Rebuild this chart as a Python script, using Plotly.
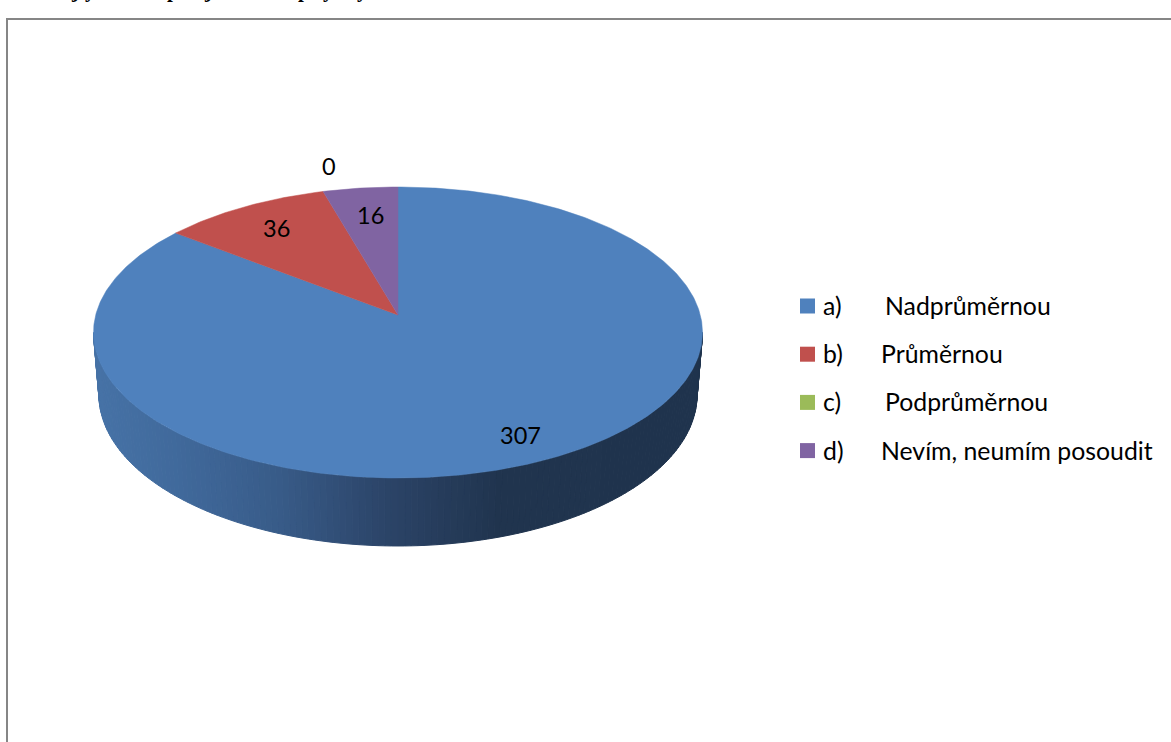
import math
import plotly.graph_objects as go

# ---- data ----
categories = ["Nadprůměrnou", "Průměrnou", "Podprůměrnou", "Nevím, neumím posoudit"]
prefixes = ["a)", "b)", "c)", "d)"]
values = [307, 36, 0, 16]
colors = ["#4f81bd", "#c0504d", "#9bbb59", "#8064a2"]
title_glyphs = ["j", "y", "p", "j", "p", "y", "y"]
title_glyph_x = [75, 90, 173, 208, 304, 328, 362]

# ---- layout constants (pixel space of the 1171x742 page) ----
W, H = 1171, 742
CX = 398.0
APEX_Y = 315.0
K = 302.3      # horizontal scale of the perspective projection
B = -105.5     # vertical scale
A = 0.1203     # perspective strength
BOTTOM_S = 0.982
BOTTOM_APEX_Y = 376.7
FRAME = "#868686"
FONT = "Lato"
LABEL_SIZE = 23.5
LEGEND_SIZE = 24.8


def project(phi_deg, r=1.0, bottom=False):
    """Point on the tilted disc; phi clockwise from the top, r in 0..1."""
    p = math.radians(phi_deg)
    X, Y = r * math.sin(p), r * math.cos(p)
    d = 1 + A * Y
    if bottom:
        return CX + BOTTOM_S * K * X / d, (BOTTOM_APEX_Y + BOTTOM_S * B * Y) / d
    return CX + K * X / d, (APEX_Y + B * Y) / d


def hex_rgb(h):
    return tuple(int(h[i:i + 2], 16) for i in (1, 3, 5))


side_stops = [(98, "#4672a6"), (180, "#40699b"), (280, "#385b88"),
              (380, "#2c4569"), (500, "#20344e"), (700, "#1f334d")]


def side_color(x):
    for (x0, c0), (x1, c1) in zip(side_stops, side_stops[1:]):
        if x <= x1:
            t = max(0.0, (x - x0) / (x1 - x0))
            a, b = hex_rgb(c0), hex_rgb(c1)
            return "rgb(%d,%d,%d)" % tuple(round(a[i] + (b[i] - a[i]) * t) for i in range(3))
    return side_stops[-1][1]


fig = go.Figure()

# visible rim of the disc, drawn as narrow strips from the silhouette round the front
phi_a = math.degrees(math.acos(-A))
phi_b = 360 - phi_a
N = 150
for i in range(N):
    p0 = phi_a + (phi_b - phi_a) * i / N
    p1 = phi_a + (phi_b - phi_a) * (i + 1) / N
    pts = [project(p0), project(p1), project(p1, bottom=True), project(p0, bottom=True)]
    xs = [q[0] for q in pts] + [pts[0][0]]
    ys = [q[1] for q in pts] + [pts[0][1]]
    col = side_color(sum(xs[:4]) / 4)
    fig.add_trace(go.Scatter(x=xs, y=ys, mode="lines", fill="toself", fillcolor=col,
                             line=dict(color=col, width=1), hoverinfo="skip", showlegend=False))

# top face, one wedge per value, clockwise from twelve o'clock
total = sum(values)
start = 0.0
mids = []
for name, val, col in zip(categories, values, colors):
    sweep = 360.0 * val / total
    mids.append(start + sweep / 2)
    if val > 0:
        steps = max(2, int(sweep * 1.5))
        arc = [project(start + sweep * j / steps) for j in range(steps + 1)]
        apex = project(0, 0)
        xs = [apex[0]] + [q[0] for q in arc] + [apex[0]]
        ys = [apex[1]] + [q[1] for q in arc] + [apex[1]]
        fig.add_trace(go.Scatter(x=xs, y=ys, mode="lines", fill="toself", fillcolor=col,
                                 line=dict(color=col, width=0.5), name=name,
                                 text=f"{name}: {val}", hoverinfo="text", showlegend=False))
    start += sweep

annotations = []

# data labels at a radius along each wedge's middle
label_r = [0.84, 0.77, 1.19, 0.76]
label_xshift = [0, 0, 18, 2]
label_yshift = [-1, 2, 5, 1]
for val, mid, r, dx, dy in zip(values, mids, label_r, label_xshift, label_yshift):
    lx, ly = project(mid, r)
    annotations.append(dict(x=lx, y=ly, text=str(val), showarrow=False, xshift=dx, yshift=dy,
                            xanchor="center", yanchor="middle",
                            font=dict(family=FONT, size=LABEL_SIZE, color="#000000")))

# legend
LEG_X = 807.5
LEG_Y0, LEG_DY = 305.5, 48.2
leg_y = [LEG_Y0 + LEG_DY * i for i in range(len(categories))]
name_x = [883, 879, 883, 879]
fig.add_trace(go.Scatter(x=[LEG_X] * 4, y=[y + 0.5 for y in leg_y], mode="markers",
                         hoverinfo="skip", showlegend=False,
                         marker=dict(symbol="square", size=15, color=colors, line=dict(width=0))))
for pre, name, y, nx in zip(prefixes, categories, leg_y, name_x):
    annotations.append(dict(x=821, y=y, text=pre, showarrow=False, xanchor="left", yanchor="middle",
                            font=dict(family=FONT, size=LEGEND_SIZE, color="#000000")))
    annotations.append(dict(x=nx, y=y, text=name, showarrow=False, xanchor="left", yanchor="middle",
                            font=dict(family=FONT, size=LEGEND_SIZE, color="#000000")))

# caption above the frame: the page crops it, only the descenders remain
for g, gx in zip(title_glyphs, title_glyph_x):
    annotations.append(dict(xref="paper", yref="paper", x=gx / W, y=1 + 10.5 / H,
                            text=f"<b>{g}</b>", showarrow=False,
                            xanchor="center", yanchor="middle",
                            font=dict(family="Liberation Serif", size=21, color="#000000")))

shapes = [
    dict(type="line", x0=7, x1=W + 10, y0=19, y1=19, line=dict(color=FRAME, width=2)),
    dict(type="line", x0=7, x1=7, y0=18, y1=H + 10, line=dict(color=FRAME, width=2)),
]

fig.update_layout(
    width=W, height=H, autosize=False,
    margin=dict(l=0, r=0, t=0, b=0),
    paper_bgcolor="#ffffff", plot_bgcolor="#ffffff",
    xaxis=dict(range=[0, W], visible=False, fixedrange=True),
    yaxis=dict(range=[H, 0], visible=False, fixedrange=True),
    showlegend=False,
    annotations=annotations,
    shapes=shapes,
)

fig.write_html("out.html", config={"displayModeBar": False},
               post_script="document.body.style.margin='0';document.body.style.overflow='hidden';")
